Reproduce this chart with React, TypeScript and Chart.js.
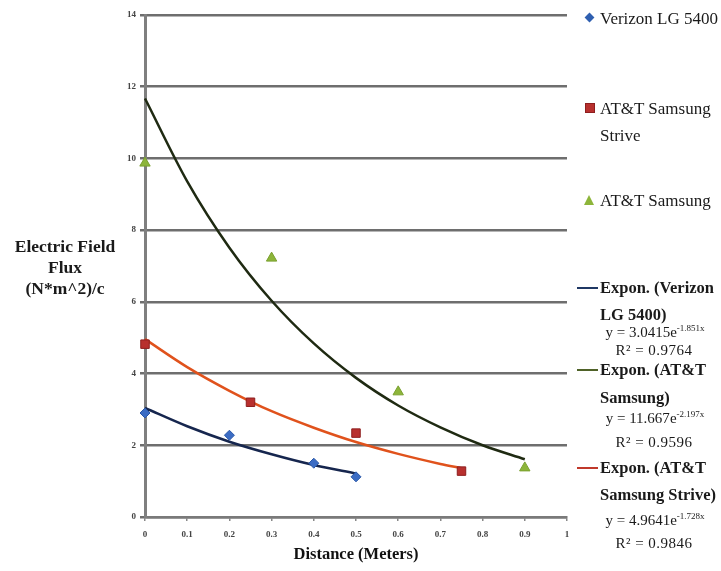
import React, { useEffect, useRef } from "react";
import { Chart, registerables } from "chart.js";

Chart.register(...registerables);

// Measured points
const verizonX = [0, 0.2, 0.4, 0.5];
const verizonY = [2.9, 2.28, 1.5, 1.12];
const striveX = [0, 0.25, 0.5, 0.75];
const striveY = [4.82, 3.2, 2.34, 1.28];
const samsungX = [0, 0.3, 0.6, 0.9];
const samsungY = [9.87, 7.22, 3.49, 1.37];

// Trendline curves
const trendVerizonX = [0, 0.1, 0.2, 0.3, 0.4, 0.5];
const trendVerizonY = [3.04, 2.53, 2.1, 1.75, 1.45, 1.21];
const trendStriveX = [0, 0.1, 0.2, 0.3, 0.4, 0.5, 0.6, 0.7, 0.75];
const trendStriveY = [4.96, 4.18, 3.52, 2.95, 2.49, 2.09, 1.76, 1.48, 1.36];
const trendSamsungX = [0, 0.1, 0.2, 0.3, 0.4, 0.5, 0.6, 0.7, 0.8, 0.9];
const trendSamsungY = [11.67, 9.36, 7.51, 6.03, 4.84, 3.88, 3.11, 2.5, 2.0, 1.61];

const xTicks = [0, 0.1, 0.2, 0.3, 0.4, 0.5, 0.6, 0.7, 0.8, 0.9, 1];
const yTicks = [0, 2, 4, 6, 8, 10, 12, 14];

const SERIF = "'Liberation Serif', 'DejaVu Serif', serif";

const pts = (xs: number[], ys: number[]) => xs.map((x, i) => ({ x, y: ys[i] }));

const Txt = (p: { x: number; y: number; size: number; bold?: boolean; center?: boolean; children: any; ls?: number }) => (
  <div
    style={{
      position: "absolute",
      left: p.x,
      top: p.y,
      transform: p.center ? "translate(-50%, -50%)" : "translateY(-50%)",
      fontFamily: SERIF,
      fontSize: p.size,
      fontWeight: p.bold ? "bold" : "normal",
      whiteSpace: "nowrap",
      color: "#1a1a1a",
      lineHeight: 1,
      letterSpacing: p.ls ?? 0,
    }}
  >
    {p.children}
  </div>
);

const LegLine = (p: { y: number; color: string }) => (
  <div style={{ position: "absolute", left: 577, top: p.y - 1, width: 21, height: 2, background: p.color }} />
);

const Eq = (p: { y: number; a: string; b: string }) => (
  <Txt x={655} y={p.y} size={15} center>
    y = {p.a}e<sup style={{ fontSize: 9, verticalAlign: "6px" }}>{p.b}</sup>
  </Txt>
);

export default function App() {
  const ref = useRef<HTMLCanvasElement>(null);
  useEffect(() => {
    const ctx = ref.current!;
    const chart = new Chart(ctx, {
      type: "scatter",
      data: {
        datasets: [
          {
            label: "Verizon LG 5400",
            data: pts(verizonX, verizonY),
            pointStyle: "rectRot",
            pointRadius: 5,
            backgroundColor: "#3b6cc4",
            borderColor: "#2a58a8",
            borderWidth: 1,
            order: 0,
            clip: false,
          },
          {
            label: "AT&T Samsung Strive",
            data: pts(striveX, striveY),
            pointStyle: "rect",
            pointRadius: 6,
            backgroundColor: "#b8302e",
            borderColor: "#8e1f1f",
            borderWidth: 1,
            order: 0,
            clip: false,
          },
          {
            label: "AT&T Samsung",
            data: pts(samsungX, samsungY),
            pointStyle: "triangle",
            pointRadius: 6,
            backgroundColor: "#8db53a",
            borderColor: "#7aa02f",
            borderWidth: 1,
            order: 0,
            clip: false,
          },
          {
            label: "Expon. (Verizon LG 5400)",
            data: pts(trendVerizonX, trendVerizonY),
            showLine: true,
            pointRadius: 0,
            borderColor: "#16264e",
            borderWidth: 2.5,
            cubicInterpolationMode: "monotone",
            order: 1,
            clip: false,
          },
          {
            label: "Expon. (AT&T Samsung)",
            data: pts(trendSamsungX, trendSamsungY),
            showLine: true,
            pointRadius: 0,
            borderColor: "#1f2a12",
            borderWidth: 2.5,
            cubicInterpolationMode: "monotone",
            order: 1,
            clip: false,
          },
          {
            label: "Expon. (AT&T Samsung Strive)",
            data: pts(trendStriveX, trendStriveY),
            showLine: true,
            pointRadius: 0,
            borderColor: "#e0521c",
            borderWidth: 2.5,
            cubicInterpolationMode: "monotone",
            order: 1,
            clip: false,
          },
        ] as any,
      },
      options: {
        animation: false,
        responsive: false,
        layout: { padding: { top: 15, right: 154, left: 0, bottom: 0 } },
        plugins: { legend: { display: false }, tooltip: { enabled: false } },
        scales: {
          x: {
            type: "linear",
            min: 0,
            max: 1,
            afterBuildTicks: (s: any) => {
              s.ticks = xTicks.map((v) => ({ value: v }));
            },
            afterFit: (s: any) => {
              s.height = 54;
            },
            ticks: {
              callback: (v: any) => String(Number(Number(v).toFixed(1))),
              font: { family: SERIF, size: 9, weight: "bold" },
              color: "#444",
              padding: 8,
              maxRotation: 0,
            },
            grid: { drawOnChartArea: false, drawTicks: true, tickLength: 4, color: "#888", lineWidth: 1.5 },
            border: { color: "#7a7a7a", width: 2.5 },
            title: {
              display: true,
              text: "Distance (Meters)",
              font: { family: SERIF, size: 16.5, weight: "bold" },
              color: "#111",
              padding: { top: 0, bottom: 6 },
            },
          },
          y: {
            min: 0,
            max: 14,
            afterBuildTicks: (s: any) => {
              s.ticks = yTicks.map((v) => ({ value: v }));
            },
            afterFit: (s: any) => {
              s.width = 145;
            },
            ticks: {
              font: { family: SERIF, size: 9, weight: "bold" },
              color: "#444",
              padding: 4,
            },
            grid: { color: "#6e6e6e", lineWidth: 2.5, tickLength: 5 },
            border: { color: "#7f7f7f", width: 3 },
          },
        },
      } as any,
    });
    return () => chart.destroy();
  }, []);

  return (
    <div style={{ position: "fixed", left: 0, top: 0, width: 721, height: 571, background: "#fff", overflow: "hidden" }}>
      <canvas ref={ref} width={721} height={571} style={{ position: "absolute", left: 0, top: 0 }} />

      {/* Y axis title */}
      <Txt x={65} y={247} size={17.5} bold center>Electric Field</Txt>
      <Txt x={65} y={268} size={17.5} bold center>Flux</Txt>
      <Txt x={65} y={289} size={17.5} bold center>(N*m^2)/c</Txt>

      {/* Legend markers */}
      <div style={{ position: "absolute", left: 586, top: 14, width: 7, height: 7, background: "#2f5fb0", transform: "rotate(45deg)" }} />
      <div style={{ position: "absolute", left: 585, top: 103, width: 10, height: 10, background: "#b8302e", boxSizing: "border-box", border: "1px solid #8e1f1f" }} />
      <div
        style={{
          position: "absolute",
          left: 584,
          top: 195,
          width: 0,
          height: 0,
          borderLeft: "5px solid transparent",
          borderRight: "5px solid transparent",
          borderBottom: "10px solid #8db53a",
        }}
      />

      <Txt x={600} y={18} size={17}>Verizon LG 5400</Txt>
      <Txt x={600} y={108} size={17}>AT&amp;T Samsung</Txt>
      <Txt x={600} y={135} size={17}>Strive</Txt>
      <Txt x={600} y={200} size={17}>AT&amp;T Samsung</Txt>

      <LegLine y={288} color="#1f3864" />
      <Txt x={600} y={288} size={16.5} bold>Expon. (Verizon</Txt>
      <Txt x={600} y={315} size={16.5} bold>LG 5400)</Txt>
      <Eq y={332} a="3.0415" b="-1.851x" />
      <Txt x={654} y={350} size={15} center ls={0.5}>R² = 0.9764</Txt>

      <LegLine y={370} color="#4f6228" />
      <Txt x={600} y={370} size={16.5} bold>Expon. (AT&amp;T</Txt>
      <Txt x={600} y={398} size={16.5} bold>Samsung)</Txt>
      <Eq y={418} a="11.667" b="-2.197x" />
      <Txt x={654} y={442} size={15} center ls={0.5}>R² = 0.9596</Txt>

      <LegLine y={468} color="#c0392b" />
      <Txt x={600} y={468} size={16.5} bold>Expon. (AT&amp;T</Txt>
      <Txt x={600} y={495} size={16.5} bold>Samsung Strive)</Txt>
      <Eq y={520} a="4.9641" b="-1.728x" />
      <Txt x={654} y={543} size={15} center ls={0.5}>R² = 0.9846</Txt>
    </div>
  );
}
